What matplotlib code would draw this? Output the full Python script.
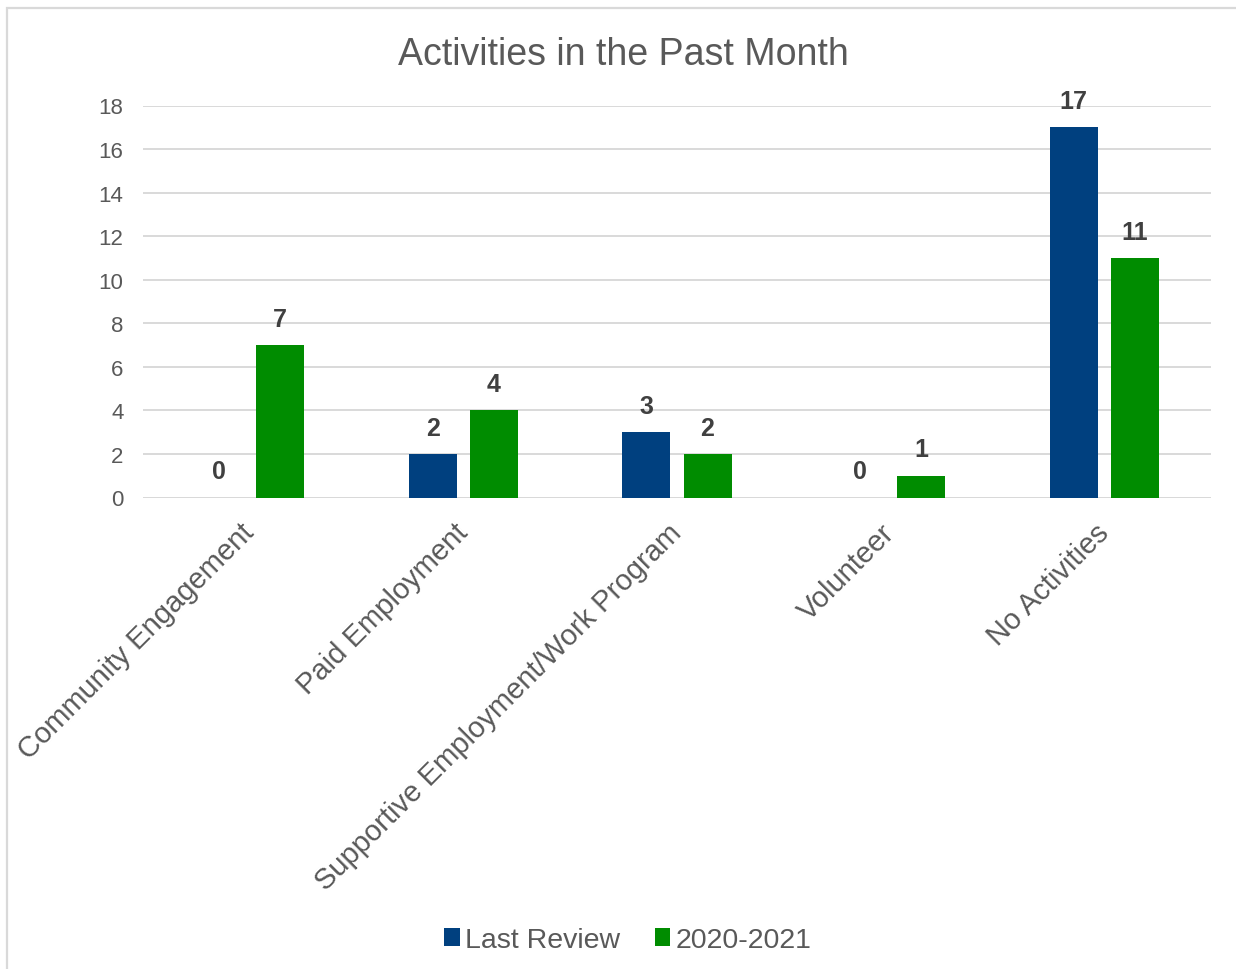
import matplotlib
matplotlib.use("Agg")
import matplotlib.pyplot as plt
from matplotlib.patches import Rectangle
import numpy as np

categories = ["Community Engagement", "Paid Employment",
              "Supportive Employment/Work Program", "Volunteer", "No Activities"]
last_review = [0, 2, 3, 0, 17]
year_2020_2021 = [7, 4, 2, 1, 11]
series_names = ["Last Review", "2020-2021"]
yticks = [0, 2, 4, 6, 8, 10, 12, 14, 16, 18]

plt.rcParams['font.family'] = ['Liberation Sans', 'DejaVu Sans']
W, H = 1236, 970
fig = plt.figure(figsize=(W / 100, H / 100), dpi=100)
fig.patch.set_facecolor('white')

# outer border
fig.patches.append(Rectangle((7 / W, -0.05), 1.1, 1 - 9 / H + 0.05,
                             transform=fig.transFigure, fill=False,
                             edgecolor='#D9D9D9', linewidth=1.6))

ax = fig.add_axes([143 / W, 1 - 498.5 / H, (1211 - 143) / W, (498.5 - 106.5) / H])

blue = '#00407F'
green = '#008C00'
text_col = '#595959'
x = np.arange(len(categories))
off = 0.143
bw = 0.225
b1 = ax.bar(x - off, last_review, bw, color=blue, zorder=3)
b2 = ax.bar(x + off, year_2020_2021, bw, color=green, zorder=3)

for bars, vals in ((b1, last_review), (b2, year_2020_2021)):
    for r, v in zip(bars, vals):
        ax.annotate(str(v), (r.get_x() + r.get_width() / 2, v),
                    xytext=(0, 19), textcoords='offset points',
                    ha='center', va='center', fontsize=18, fontweight='bold',
                    color='#404040', zorder=4)

ax.set_xlim(-0.5, len(categories) - 0.5)
ax.set_ylim(0, 18)
ax.set_yticks(yticks)
ax.set_yticklabels([str(t) for t in yticks], fontsize=16, color=text_col)
ax.yaxis.grid(True, color='#D9D9D9', linewidth=1.4, zorder=0)
ax.set_axisbelow(True)
for s in ax.spines.values():
    s.set_visible(False)
ax.axhline(0, color='#D9D9D9', linewidth=1.4, zorder=2)
ax.tick_params(axis='both', length=0)
ax.tick_params(axis='y', pad=14)

ax.set_xticks(x)
ax.set_xticklabels(categories, rotation=45, ha='right', va='center',
                   rotation_mode='anchor', fontsize=21, color=text_col)
ax.tick_params(axis='x', pad=22)

fig.text(623 / W, 1 - 55 / H, "Activities in the Past Month", ha='center',
         va='center', fontsize=27, color=text_col)

leg = fig.legend([b1, b2], series_names, loc='center',
                 bbox_to_anchor=(628 / W, 1 - 941 / H), ncol=2, frameon=False,
                 fontsize=20.5, handlelength=0.55, handleheight=0.55,
                 handletextpad=0.2, columnspacing=1.2, labelcolor=text_col)

fig.savefig("out.png", dpi=100, facecolor='white')
